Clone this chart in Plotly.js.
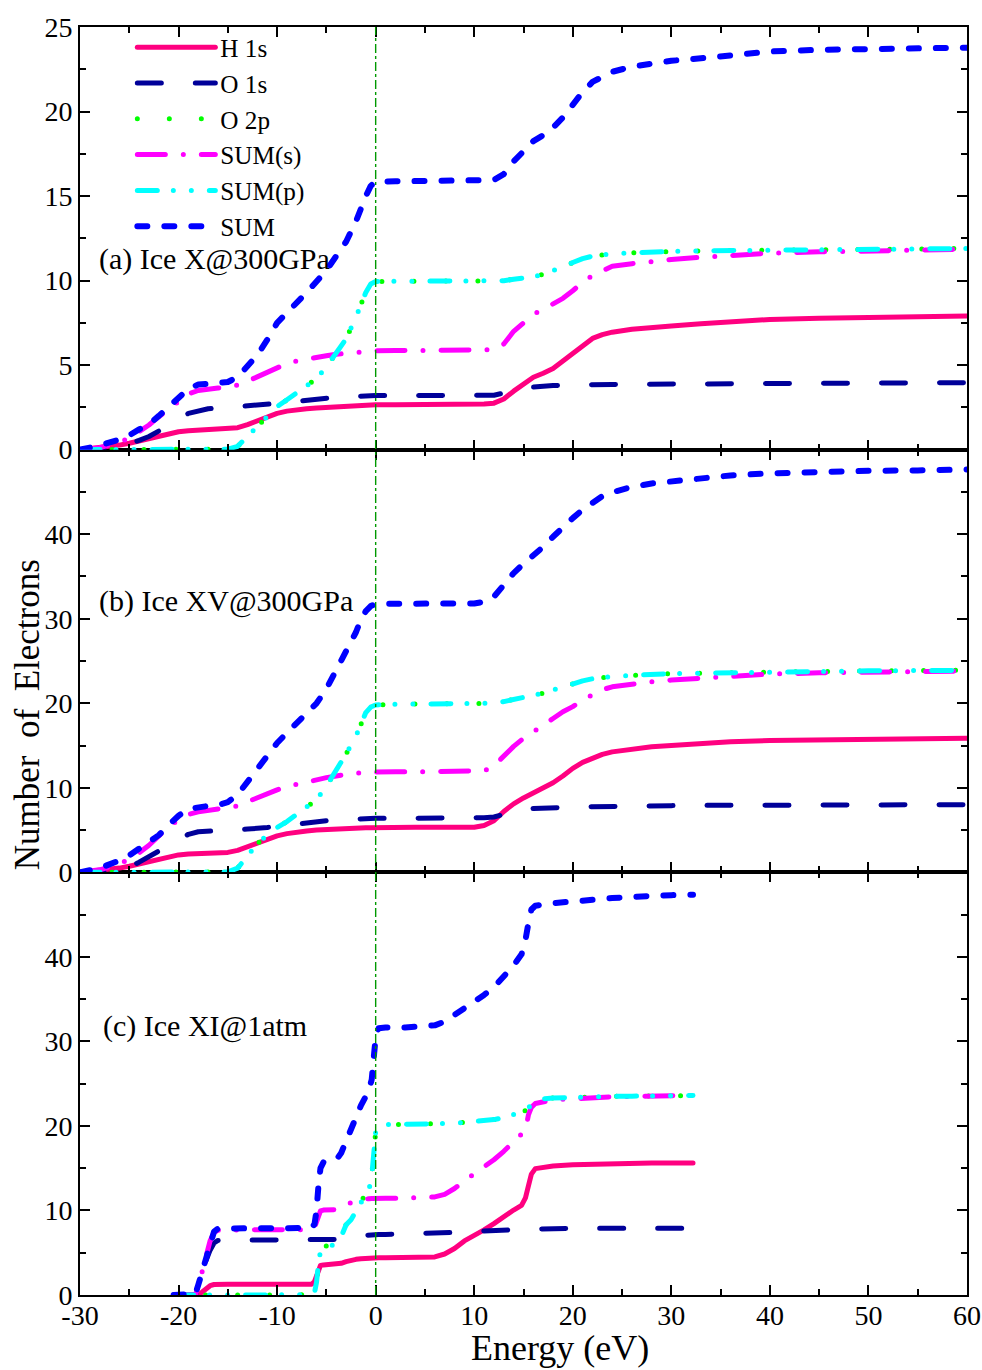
<!DOCTYPE html>
<html><head><meta charset="utf-8">
<script src="https://cdn.plot.ly/plotly-3.0.1.min.js"></script>
<style>
html,body{margin:0;padding:0;background:#fff;}
#chart{width:982px;height:1370px;}
.js-line{stroke-linecap:round;stroke-linejoin:round;}
</style></head><body><div id="chart"></div><script>
// ---------- data ----------
const seriesNames = ["H 1s", "O 1s", "O 2p", "SUM(s)", "SUM(p)", "SUM"];
const panelLabels = ["(a) Ice X@300GPa", "(b) Ice XV@300GPa", "(c) Ice XI@1atm"];
const xTickVals = [-30, -20, -10, 0, 10, 20, 30, 40, 50, 60];
const xTickText = ["-30", "-20", "-10", "0", "10", "20", "30", "40", "50", "60"];
const yTickValsA = [0, 5, 10, 15, 20, 25];
const yMinorA = [2.5, 7.5, 12.5, 17.5, 22.5];
const yTickValsBC = [0, 10, 20, 30, 40];
const yMinorBC = [5, 15, 25, 35, 45];
const xMinor = [-25, -15, -5, 5, 15, 25, 35, 45, 55];

// panel (a) and (b) energy grid (eV)
const energyAB = [-30, -28, -26, -25, -24, -23, -22, -21, -20, -19, -18, -17, -16, -15, -14, -13, -12, -11, -10, -9, -8, -7, -6, -5, -4, -3, -2, -1.5, -1, -0.5, 0, 2, 4, 6, 8, 10, 11, 12, 13, 14, 15, 16, 17, 18, 19, 20, 21, 22, 23, 24, 26, 28, 30, 33, 36, 40, 45, 50, 55, 60];

// (a) Ice X @ 300 GPa
const h1sA = [0, 0.1, 0.27, 0.38, 0.52, 0.68, 0.84, 0.97, 1.06, 1.12, 1.15, 1.17, 1.18, 1.2, 1.3, 1.48, 1.72, 1.96, 2.15, 2.28, 2.37, 2.42, 2.46, 2.5, 2.53, 2.56, 2.6, 2.61, 2.62, 2.63, 2.65, 2.66, 2.66, 2.66, 2.66, 2.67, 2.7, 2.75, 3.0, 3.46, 3.9, 4.28, 4.52, 4.8, 5.24, 5.7, 6.2, 6.58, 6.8, 6.95, 7.12, 7.25, 7.32, 7.45, 7.57, 7.7, 7.78, 7.82, 7.85, 7.9];
const o1sA = [0, 0.03, 0.15, 0.32, 0.55, 0.78, 1.1, 1.4, 1.75, 2.15, 2.32, 2.42, 2.46, 2.5, 2.54, 2.58, 2.62, 2.66, 2.7, 2.78, 2.86, 2.93, 3.0, 3.05, 3.1, 3.13, 3.16, 3.17, 3.18, 3.19, 3.2, 3.2, 3.2, 3.2, 3.2, 3.2, 3.21, 3.22, 3.35, 3.56, 3.66, 3.72, 3.76, 3.79, 3.81, 3.83, 3.84, 3.85, 3.86, 3.86, 3.87, 3.88, 3.89, 3.9, 3.91, 3.93, 3.94, 3.95, 3.95, 3.96];
const o2pA = [0, 0, 0, 0, 0, 0, 0, 0, 0, 0, 0, 0.01, 0.02, 0.03, 0.2, 0.8, 1.45, 2.05, 2.55, 2.95, 3.35, 3.75, 4.2, 4.9, 5.7, 6.55, 7.85, 8.65, 9.3, 9.8, 9.95, 9.96, 9.96, 9.96, 9.96, 9.96, 9.96, 9.97, 9.99, 10.08, 10.15, 10.22, 10.38, 10.58, 10.82, 11.07, 11.3, 11.45, 11.54, 11.58, 11.64, 11.7, 11.72, 11.76, 11.78, 11.8, 11.84, 11.86, 11.88, 11.9];
const sumSA = [0, 0.12, 0.42, 0.7, 1.07, 1.46, 1.95, 2.4, 2.85, 3.3, 3.5, 3.6, 3.65, 3.7, 3.82, 4.05, 4.33, 4.6, 4.88, 5.1, 5.25, 5.37, 5.47, 5.55, 5.64, 5.7, 5.76, 5.78, 5.8, 5.82, 5.85, 5.86, 5.86, 5.86, 5.86, 5.87, 5.9, 5.95, 6.25, 7.0, 7.55, 8.0, 8.3, 8.6, 8.95, 9.4, 9.9, 10.3, 10.6, 10.85, 11.0, 11.15, 11.25, 11.38, 11.5, 11.62, 11.7, 11.76, 11.8, 11.85];
const sumPA = [0, 0, 0, 0, 0, 0, 0, 0, 0, 0, 0, 0.01, 0.02, 0.03, 0.2, 0.8, 1.45, 2.05, 2.55, 2.95, 3.35, 3.75, 4.2, 4.9, 5.7, 6.55, 7.85, 8.65, 9.3, 9.8, 9.95, 9.96, 9.96, 9.96, 9.96, 9.96, 9.96, 9.97, 9.99, 10.08, 10.15, 10.22, 10.38, 10.58, 10.82, 11.07, 11.3, 11.45, 11.54, 11.58, 11.64, 11.7, 11.72, 11.76, 11.78, 11.8, 11.84, 11.86, 11.88, 11.9];
const sumA = [0, 0.25, 0.6, 0.85, 1.2, 1.5, 2.0, 2.55, 3.1, 3.6, 3.85, 3.88, 3.9, 4.0, 4.3, 4.95, 5.6, 6.5, 7.5, 8.1, 8.65, 9.3, 9.95, 10.6, 11.45, 12.3, 13.5, 14.3, 15.0, 15.6, 15.85, 15.87, 15.87, 15.87, 15.87, 15.87, 15.88, 15.95, 16.3, 17.05, 17.65, 18.25, 18.6, 19.05, 19.65, 20.45, 21.15, 21.75, 22.1, 22.35, 22.65, 22.85, 23.0, 23.15, 23.3, 23.55, 23.65, 23.7, 23.72, 23.78];

// (b) Ice XV @ 300 GPa
const h1sB = [0, 0.2, 0.5, 0.72, 1.0, 1.3, 1.6, 1.88, 2.06, 2.18, 2.24, 2.27, 2.3, 2.36, 2.6, 3.0, 3.5, 3.95, 4.32, 4.58, 4.78, 4.9, 5.0, 5.08, 5.13, 5.18, 5.22, 5.24, 5.26, 5.28, 5.3, 5.32, 5.32, 5.32, 5.33, 5.34, 5.55, 6.1, 7.2, 8.1, 8.8, 9.35, 9.95, 10.6, 11.4, 12.3, 13.0, 13.55, 13.95, 14.25, 14.6, 14.85, 15.0, 15.25, 15.45, 15.6, 15.7, 15.75, 15.8, 15.85];
const o1sB = [0, 0.06, 0.3, 0.6, 1.2, 1.85, 2.5, 3.2, 3.9, 4.5, 4.8, 4.9, 4.95, 5.0, 5.05, 5.12, 5.18, 5.3, 5.45, 5.6, 5.72, 5.85, 5.97, 6.1, 6.2, 6.27, 6.32, 6.34, 6.36, 6.38, 6.4, 6.4, 6.4, 6.4, 6.41, 6.42, 6.45, 6.55, 6.9, 7.25, 7.45, 7.55, 7.62, 7.67, 7.7, 7.72, 7.75, 7.78, 7.8, 7.82, 7.85, 7.87, 7.89, 7.92, 7.94, 7.96, 7.98, 7.99, 8.0, 8.0];
const o2pB = [0, 0, 0, 0, 0, 0, 0, 0, 0, 0, 0, 0.02, 0.03, 0.05, 0.5, 2.0, 3.4, 4.4, 5.3, 6.0, 6.9, 7.7, 8.6, 10.2, 12.0, 14.0, 16.1, 17.6, 18.9, 19.55, 19.8, 19.88, 19.88, 19.88, 19.9, 19.9, 19.92, 20.0, 20.2, 20.5, 20.75, 20.95, 21.2, 21.6, 22.0, 22.35, 22.65, 22.9, 23.05, 23.15, 23.3, 23.42, 23.5, 23.55, 23.62, 23.72, 23.8, 23.84, 23.87, 23.9];
const sumSB = [0, 0.3, 0.95, 1.6, 2.3, 3.2, 4.3, 5.4, 6.2, 6.85, 7.15, 7.3, 7.4, 7.55, 7.85, 8.35, 8.85, 9.35, 9.75, 10.15, 10.45, 10.75, 11.0, 11.2, 11.4, 11.6, 11.75, 11.8, 11.83, 11.86, 11.88, 11.9, 11.9, 11.9, 11.9, 11.9, 12.0, 12.6, 13.8, 14.9, 15.85, 16.6, 17.3, 18.2, 19.0, 19.6, 20.4, 21.05, 21.6, 21.95, 22.3, 22.55, 22.75, 23.0, 23.2, 23.45, 23.6, 23.7, 23.75, 23.8];
const sumPB = [0, 0, 0, 0, 0, 0, 0, 0, 0, 0, 0, 0.02, 0.03, 0.05, 0.5, 2.0, 3.4, 4.4, 5.3, 6.0, 6.9, 7.7, 8.6, 10.2, 12.0, 14.0, 16.1, 17.6, 18.9, 19.55, 19.8, 19.88, 19.88, 19.88, 19.9, 19.9, 19.92, 20.0, 20.2, 20.5, 20.75, 20.95, 21.2, 21.6, 22.0, 22.35, 22.65, 22.9, 23.05, 23.15, 23.3, 23.42, 23.5, 23.55, 23.62, 23.72, 23.8, 23.84, 23.87, 23.9];
const sumB = [0, 0.5, 1.4, 2.0, 2.8, 3.6, 4.4, 5.6, 6.7, 7.5, 7.75, 7.85, 7.95, 8.3, 9.2, 10.7, 12.2, 13.7, 15.3, 16.5, 17.6, 18.7, 20.0, 21.7, 23.9, 26.2, 28.4, 29.9, 30.9, 31.5, 31.75, 31.78, 31.78, 31.78, 31.8, 31.8, 32.0, 32.6, 34.0, 35.4, 36.5, 37.4, 38.5, 39.7, 40.9, 41.9, 42.9, 43.8, 44.5, 44.95, 45.6, 46.0, 46.25, 46.6, 46.95, 47.2, 47.4, 47.5, 47.55, 47.65];

// (c) Ice XI @ 1 atm
const energyC = [-20.5, -19, -18.3, -18, -17.6, -17.2, -16.8, -16.4, -16, -15, -12, -9, -6.5, -6.2, -6, -5.8, -5.6, -5.3, -4.5, -4, -3.5, -3, -2.5, -2, -1.5, -1, -0.7, -0.4, -0.2, 0, 0.3, 1, 3, 5, 6, 7, 8, 9, 10, 11, 12, 13, 14, 14.8, 15.2, 15.5, 15.8, 16.2, 17, 18, 20, 22, 24, 26, 28, 30, 32.2];
const h1sC = [0, 0, 0, 0, 0.35, 0.8, 1.1, 1.24, 1.26, 1.26, 1.26, 1.26, 1.27, 1.6, 2.4, 3.2, 3.5, 3.56, 3.58, 3.6, 3.75, 3.95, 4.12, 4.22, 4.3, 4.36, 4.4, 4.41, 4.42, 4.42, 4.42, 4.42, 4.42, 4.43, 4.5, 4.85, 5.5, 6.4, 7.0, 7.7, 8.45, 9.3, 10.05, 10.6, 11.5, 12.9, 14.3, 14.95, 15.15, 15.25, 15.4, 15.48, 15.55, 15.58, 15.6, 15.62, 15.62];
const o1sC = [0, 0, 0, 0.9, 2.6, 4.1, 5.3, 6.15, 6.45, 6.5, 6.5, 6.5, 6.5, 6.5, 6.5, 6.5, 6.5, 6.5, 6.5, 6.52, 6.58, 6.7, 6.83, 6.93, 7.0, 7.06, 7.1, 7.12, 7.14, 7.15, 7.16, 7.17, 7.2, 7.25, 7.28, 7.32, 7.4, 7.48, 7.55, 7.62, 7.68, 7.72, 7.75, 7.77, 7.78, 7.8, 7.8, 7.82, 7.83, 7.85, 7.88, 7.9, 7.9, 7.9, 7.9, 7.9, 7.9];
const o2pC = [0, 0, 0, 0, 0, 0, 0, 0, 0, 0, 0, 0, 0.02, 0.3, 1.5, 3.8, 5.2, 5.75, 5.85, 5.95, 6.9, 8.3, 8.9, 9.8, 10.9, 12.1, 12.35, 14.0, 16.5, 19.3, 20.05, 20.15, 20.2, 20.2, 20.2, 20.22, 20.3, 20.42, 20.52, 20.62, 20.75, 21.0, 21.3, 21.55, 21.8, 22.1, 22.6, 22.95, 23.2, 23.3, 23.4, 23.45, 23.5, 23.52, 23.55, 23.58, 23.6];
const sumSC = [0, 0, 0, 1.0, 3.0, 4.9, 6.4, 7.4, 7.65, 7.7, 7.7, 7.7, 7.72, 8.0, 8.8, 9.6, 9.95, 10.05, 10.06, 10.1, 10.3, 10.65, 10.95, 11.1, 11.25, 11.35, 11.4, 11.42, 11.44, 11.45, 11.45, 11.45, 11.45, 11.47, 11.6, 11.9, 12.6, 13.5, 14.3, 15.1, 16.0, 17.0, 18.1, 18.9, 19.5, 21.3, 22.2, 22.65, 22.9, 23.1, 23.2, 23.35, 23.45, 23.5, 23.55, 23.58, 23.6];
const sumPC = [0, 0, 0, 0, 0, 0, 0, 0, 0, 0, 0, 0, 0.02, 0.3, 1.5, 3.8, 5.2, 5.75, 5.85, 5.95, 6.9, 8.3, 8.9, 9.8, 10.9, 12.1, 12.35, 14.0, 16.5, 19.3, 20.05, 20.15, 20.2, 20.2, 20.2, 20.22, 20.3, 20.42, 20.52, 20.62, 20.75, 21.0, 21.3, 21.55, 21.8, 22.1, 22.6, 22.95, 23.2, 23.3, 23.4, 23.45, 23.5, 23.52, 23.55, 23.58, 23.6];
const sumC = [0, 0, 0.1, 1.2, 2.8, 4.5, 6.1, 7.5, 7.85, 7.9, 7.9, 7.9, 7.95, 8.4, 10.0, 13.0, 15.0, 15.7, 15.9, 16.0, 16.8, 18.3, 19.7, 21.1, 22.4, 23.5, 24.2, 25.5, 27.5, 30.5, 31.55, 31.65, 31.65, 31.7, 31.9, 32.35, 33.1, 34.0, 34.8, 35.5, 36.4, 37.6, 39.0, 40.3, 42.0, 44.0, 45.6, 46.05, 46.2, 46.35, 46.55, 46.8, 46.95, 47.1, 47.25, 47.3, 47.35];

// ---------- styles ----------
const FONT = "Liberation Serif, Times New Roman, serif";
const lineStyles = [
  {color: "#FF0080", width: 5, dash: "solid"},
  {color: "#000099", width: 5, dash: "24px,34px"},
  {color: "#00FF00", width: 5, dash: "0px,32px"},
  {color: "#FF00FF", width: 5, dash: "28px,18px,0px,18px"},
  {color: "#00FFFF", width: 5, dash: "20px,16px,0px,18px,0px,18px"},
  {color: "#0000FF", width: 6, dash: "10px,17px"}
];

const panels = [
  {x: energyAB, ys: [h1sA, o1sA, o2pA, sumSA, sumPA, sumA], xa: "x3", ya: "y3", legend: true},
  {x: energyAB, ys: [h1sB, o1sB, o2pB, sumSB, sumPB, sumB], xa: "x2", ya: "y2", legend: false},
  {x: energyC,  ys: [h1sC, o1sC, o2pC, sumSC, sumPC, sumC], xa: "x",  ya: "y",  legend: false}
];

const traces = [];
panels.forEach(p => {
  p.ys.forEach((y, i) => {
    traces.push({
      type: "scatter", mode: "lines",
      x: p.x, y: y, xaxis: p.xa, yaxis: p.ya,
      name: seriesNames[i], showlegend: p.legend,
      line: {color: lineStyles[i].color, width: lineStyles[i].width, dash: lineStyles[i].dash},
      hoverinfo: "skip"
    });
  });
});

function xAxis(anchor, labels) {
  return {
    domain: [0, 1], anchor: anchor, range: [-30, 60],
    tickmode: "array", tickvals: xTickVals, ticktext: xTickText, showticklabels: labels,
    ticks: "inside", ticklen: 10, tickwidth: 2, tickcolor: "#000",
    ticklabelstandoff: -6,
    minor: {tickmode: "array", tickvals: xMinor, ticks: "inside", ticklen: 6, tickwidth: 2, tickcolor: "#000"},
    showline: true, linewidth: 2, linecolor: "#000", mirror: "allticks",
    showgrid: false, zeroline: false,
    tickfont: {family: FONT, size: 28, color: "#000"}
  };
}
function yAxis(domain, range, vals, minorVals, anchor) {
  return {
    domain: domain, anchor: anchor, range: range,
    tickmode: "array", tickvals: vals,
    ticks: "inside", ticklen: 10, tickwidth: 2, tickcolor: "#000",
    minor: {tickmode: "array", tickvals: minorVals, ticks: "inside", ticklen: 6, tickwidth: 2, tickcolor: "#000"},
    showline: true, linewidth: 2, linecolor: "#000", mirror: "allticks",
    showgrid: false, zeroline: false,
    tickfont: {family: FONT, size: 28, color: "#000"}
  };
}

const layout = {
  width: 982, height: 1370,
  margin: {l: 80, r: 15, t: 27, b: 75},
  paper_bgcolor: "#fff", plot_bgcolor: "#fff",
  font: {family: FONT, color: "#000"},
  xaxis: xAxis("y", true),
  xaxis2: xAxis("y2", false),
  xaxis3: xAxis("y3", false),
  yaxis: yAxis([0, 1/3], [0, 50], yTickValsBC, yMinorBC, "x"),
  yaxis2: yAxis([1/3, 2/3], [0, 50], yTickValsBC, yMinorBC, "x2"),
  yaxis3: yAxis([2/3, 1], [0, 25], yTickValsA, yMinorA, "x3"),
  showlegend: true,
  legend: {
    x: 0.059, y: 1.002, xanchor: "left", yanchor: "top",
    bgcolor: "rgba(0,0,0,0)", borderwidth: 0,
    font: {family: FONT, size: 25.2, color: "#000"},
    itemwidth: 78, tracegroupgap: 0
  },
  shapes: [{
    type: "line", xref: "x", yref: "paper", x0: 0, x1: 0, y0: 0, y1: 1,
    line: {color: "#009900", width: 1.4, dash: "dashdot"}, layer: "above"
  }],
  annotations: [
    {text: panelLabels[0], xref: "x3", yref: "y3", x: -28.3, y: 11.3, xanchor: "left", yanchor: "middle", showarrow: false, font: {family: FONT, size: 30, color: "#000"}},
    {text: panelLabels[1], xref: "x2", yref: "y2", x: -28.3, y: 32.1, xanchor: "left", yanchor: "middle", showarrow: false, font: {family: FONT, size: 30, color: "#000"}},
    {text: panelLabels[2], xref: "x", yref: "y", x: -27.9, y: 31.8, xanchor: "left", yanchor: "middle", showarrow: false, font: {family: FONT, size: 30, color: "#000"}},
    {text: "Number\u00a0 of\u00a0 Electrons", xref: "paper", yref: "paper", x: -0.0598, y: 0.458, xanchor: "center", yanchor: "middle", textangle: -90, showarrow: false, font: {family: FONT, size: 35, color: "#000"}},
    {text: "Energy (eV)", xref: "paper", yref: "paper", x: 0.541, y: -0.0415, xanchor: "center", yanchor: "middle", showarrow: false, font: {family: FONT, size: 36, color: "#000"}}
  ]
};

Plotly.newPlot("chart", traces, layout, {staticPlot: true, displayModeBar: false});
</script></body></html>
